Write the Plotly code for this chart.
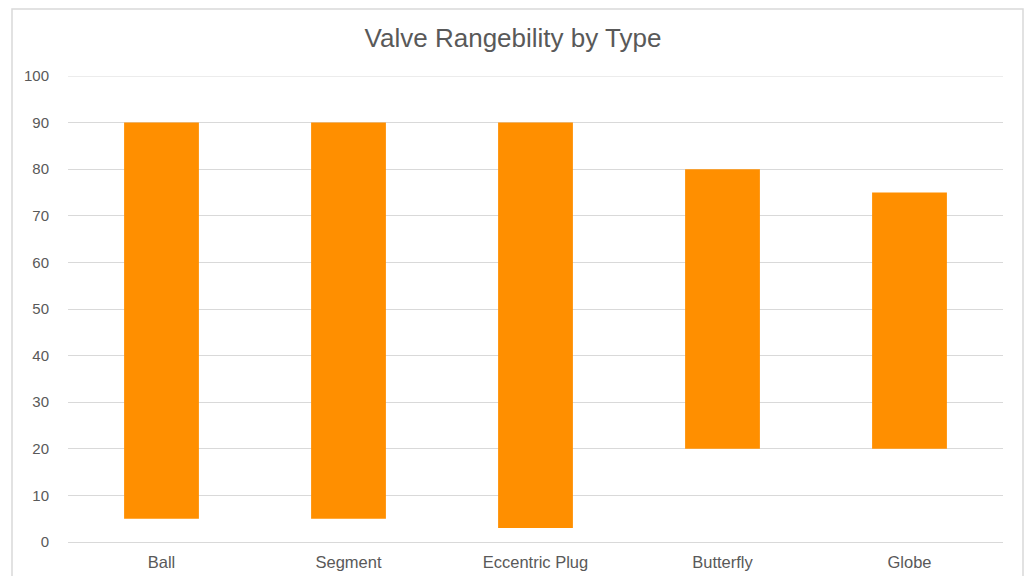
import plotly.graph_objects as go

# Valve types and their controllable flow ranges (% of rated capacity)
valve_types = ["Ball", "Segment", "Eccentric Plug", "Butterfly", "Globe"]
range_low = [5, 5, 3, 20, 20]
range_high = [90, 90, 90, 80, 75]
y_ticks = list(range(0, 101, 10))

span = [hi - lo for lo, hi in zip(range_low, range_high)]

fig = go.Figure(
    go.Bar(
        x=valve_types,
        y=span,
        base=range_low,
        width=0.4,
        marker=dict(color="#FF8F00", line=dict(width=0)),
        hoverinfo="x+y",
    )
)

fig.update_layout(
    width=1026,
    height=576,
    paper_bgcolor="white",
    plot_bgcolor="white",
    margin=dict(l=68, r=23, t=76, b=34, autoexpand=False),
    title=dict(
        text="Valve Rangebility by Type",
        x=0.5,
        xanchor="center",
        y=0.935,
        yanchor="middle",
        font=dict(family="Liberation Sans, Arial, sans-serif", size=26, color="#595959"),
    ),
    font=dict(family="Liberation Sans, Arial, sans-serif", size=15, color="#595959"),
    showlegend=False,
    bargap=0.6,
)

fig.update_xaxes(
    showline=False,
    showgrid=False,
    ticks="",
    ticklabelstandoff=8,
    automargin=False,
    tickfont=dict(size=16.5, color="#595959"),
    fixedrange=True,
)
fig.update_yaxes(
    range=[0, 100],
    tickvals=y_ticks,
    showgrid=True,
    gridcolor="#D9D9D9",
    gridwidth=1,
    zeroline=True,
    zerolinecolor="#D9D9D9",
    zerolinewidth=1,
    showline=False,
    ticks="",
    ticklabelstandoff=18,
    automargin=False,
    tickfont=dict(size=15, color="#595959"),
    fixedrange=True,
)

# Gridline for the top tick, which sits on the edge of the plot area
fig.add_shape(
    type="line",
    xref="paper",
    yref="y",
    x0=0,
    x1=1,
    y0=y_ticks[-1],
    y1=y_ticks[-1],
    line=dict(color="#D9D9D9", width=1),
    layer="below",
)

# Chart-area border
fig.add_shape(
    type="rect",
    xref="paper",
    yref="paper",
    x0=-56 / 935,
    x1=1 + 20 / 935,
    y0=-60 / 466,
    y1=1 + 67 / 466,
    line=dict(color="#D9D9D9", width=1.5),
    fillcolor="rgba(0,0,0,0)",
    layer="below",
)

fig.write_html("out.html")
